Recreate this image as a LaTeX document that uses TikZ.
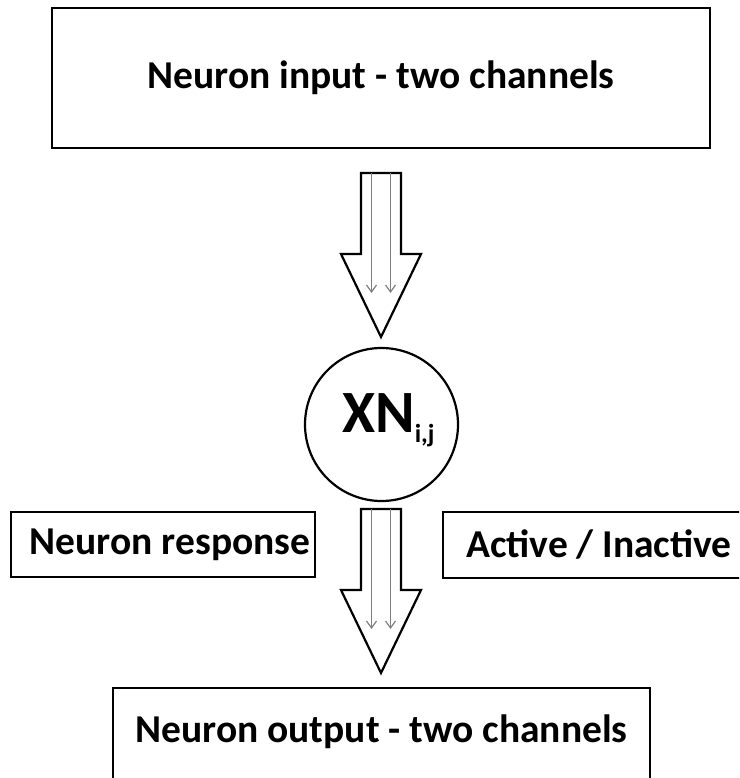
\documentclass[tikz,border=0pt]{standalone}
\usepackage{fontspec}
\setmainfont{Carlito}
\usetikzlibrary{arrows.meta}
\tikzset{
  box/.style={draw=black, line width=2.2pt, rectangle, inner sep=0pt},
  lbl/.style={font=\fontsize{39.5}{39.5}\selectfont\bfseries, inner sep=0pt},
  blockarrow/.style={draw=black, line width=2.2pt, line join=miter, fill=white},
  chan/.style={draw=black!50, line width=1.2pt, -{Straight Barb[length=7pt,width=10pt]}}
}
\begin{document}
\begin{tikzpicture}[x=1pt,y=-1pt]
\useasboundingbox (0,0) rectangle (739,778);
\clip (0,0) rectangle (739,778);
% boxes
\node[box, minimum width=658, minimum height=140] (inbox) at (381,78) {};
\node[lbl] (intext) at (381,78) {Neuron input - two channels};
\node[circle, draw=black, line width=2.2pt, minimum size=153, inner sep=0pt] (xn) at (381.5,424.5) {};
\node[inner sep=0pt, anchor=base west, font=\fontsize{60}{60}\selectfont\bfseries] (xntext) at (342,432) {XN\raisebox{-10pt}{\fontsize{26}{26}\selectfont i,j}};
\node[box, minimum width=304, minimum height=65] (resp) at (163,544.5) {};
\node[lbl] (resptext) at (170,544.5) {Neuron response};
\node[box, minimum width=320, minimum height=66] (act) at (603,545) {};
\node[lbl] (acttext) at (599,544.5) {Active / Inactive};
\node[box, minimum width=537, minimum height=112] (outbox) at (381.5,744) {};
\node[lbl] (outtext) at (381.5,732) {Neuron output - two channels};
% block arrows
\coordinate (a1) at (381,173);
\coordinate (a2) at (381,509);
\foreach \a in {a1,a2}{
  \begin{scope}[shift={(\a)}]
    \draw[blockarrow] (-20,0) -- (20,0) -- (20,81) -- (40,81) -- (0,164) -- (-40,81) -- (-20,81) -- cycle;
    \draw[chan] (-9.5,0) -- (-9.5,120);
    \draw[chan] (9.5,0) -- (9.5,120);
  \end{scope}
}
\end{tikzpicture}
\end{document}
